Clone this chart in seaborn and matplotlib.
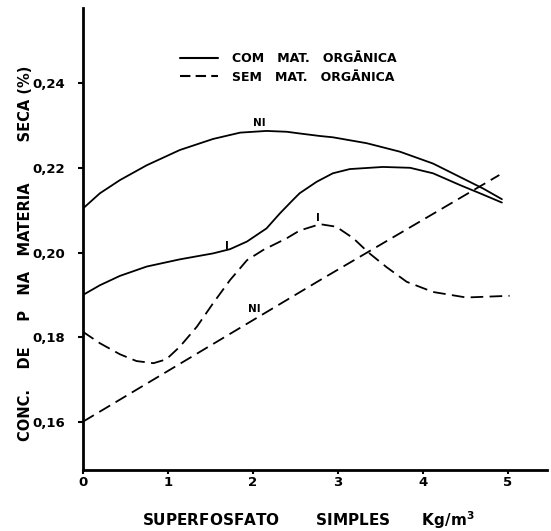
import numpy as np
import matplotlib
matplotlib.use("Agg")
import matplotlib.pyplot as plt
import seaborn as sns
import pandas as pd
from matplotlib.lines import Line2D
from matplotlib.ticker import FuncFormatter

# dados (superfosfato kg/m3 x conc. de P %)
com_ni_x = [0, 0.2, 0.435, 0.75, 1.14, 1.53, 1.85, 2.16, 2.40, 2.55, 2.79, 2.94, 3.34,
            3.73, 4.12, 4.51, 4.71, 4.93]
com_ni_y = [0.2104, 0.2140, 0.2171, 0.2206, 0.2242, 0.2268, 0.2283, 0.2287, 0.2285, 0.2281,
            0.2275, 0.2272, 0.2258, 0.2238, 0.2210, 0.2171, 0.2151, 0.2126]

com_i_x = [0, 0.2, 0.435, 0.75, 1.14, 1.53, 1.73, 1.93, 2.16, 2.32, 2.47, 2.55, 2.75, 2.94,
           3.14, 3.53, 3.85, 4.12, 4.44, 4.67, 4.93]
com_i_y = [0.1900, 0.1923, 0.1945, 0.1967, 0.1984, 0.1998, 0.2008, 0.2026, 0.2057, 0.2093,
           0.2124, 0.2140, 0.2167, 0.2187, 0.2197, 0.2202, 0.2200, 0.2187, 0.2159, 0.2140,
           0.2118]

sem_i_x = [0, 0.2, 0.435, 0.63, 0.83, 0.98, 1.14, 1.34, 1.53, 1.73, 1.93, 2.12, 2.40, 2.55,
           2.71, 2.79, 2.98, 3.18, 3.36, 3.57, 3.81, 4.12, 4.51, 5.02]
sem_i_y = [0.1813, 0.1786, 0.1760, 0.1744, 0.1739, 0.1748, 0.1778, 0.1825, 0.1880, 0.1935,
           0.1982, 0.2006, 0.2034, 0.2052, 0.2062, 0.2067, 0.2061, 0.2034, 0.2000, 0.1966,
           0.1931, 0.1907, 0.1894, 0.1898]

sem_ni_x = [0, 2.79, 4.9]
sem_ni_y = [0.1601, 0.1935, 0.2183]

y_ticks = [0.16, 0.18, 0.20, 0.22, 0.24]
x_ticks = [0, 1, 2, 3, 4, 5]

sns.set_style("ticks")
plt.rcParams['font.family'] = ['DejaVu Sans']
plt.rcParams['font.weight'] = 'bold'
for k in ['text.color', 'axes.labelcolor', 'xtick.color', 'ytick.color', 'axes.edgecolor']:
    plt.rcParams[k] = 'black'

fig = plt.figure(figsize=(5.51, 5.31), dpi=100)
ax = fig.add_axes([0.1506, 0.1149, 0.842, 0.870])

lw = 1.3
dash = (0, (7, 3.5))
sns.lineplot(x=com_ni_x, y=com_ni_y, color='black', lw=lw, ax=ax, sort=False)
sns.lineplot(x=com_i_x, y=com_i_y, color='black', lw=lw, ax=ax, sort=False)
sns.lineplot(x=sem_i_x, y=sem_i_y, color='black', lw=lw, linestyle=dash, ax=ax, sort=False)
sns.lineplot(x=sem_ni_x, y=sem_ni_y, color='black', lw=lw, linestyle=dash, ax=ax, sort=False)

ax.set_xlim(0, 5.46)
ax.set_ylim(0.1487, 0.2577)
ax.set_xticks(x_ticks)
ax.set_yticks(y_ticks)
ax.yaxis.set_major_formatter(FuncFormatter(lambda v, p: f"{v:.2f}".replace('.', ',')))
ax.tick_params(axis='y', labelsize=9.5, width=1.5, length=3.6, pad=9.5)
ax.tick_params(axis='x', labelsize=9.5, width=1.5, length=3.0, pad=1.5)
for lab in ax.get_xticklabels() + ax.get_yticklabels():
    lab.set_fontweight('bold')
sns.despine(ax=ax)
for s in ['left', 'bottom']:
    ax.spines[s].set_linewidth(2)

# rotulos das curvas
ax.text(2.08, 0.2293, "NI", ha='center', va='bottom', fontsize=7.5, fontweight='bold')
ax.text(1.69, 0.2004, "I", ha='center', va='bottom', fontsize=7.5, fontweight='bold')
ax.text(2.76, 0.2069, "I", ha='center', va='bottom', fontsize=7.5, fontweight='bold')
ax.text(2.02, 0.1867, "NI", ha='center', va='center', fontsize=7.5, fontweight='bold')

handles = [Line2D([], [], color='black', lw=1.5),
           Line2D([], [], color='black', lw=1.5, linestyle=(0, (5, 2.5)))]
ax.legend(handles, ["COM   MAT.   ORGĀNICA", "SEM   MAT.   ORGĀNICA"],
          loc='upper left', bbox_to_anchor=(180 / 551, 1 - 52 / 531),
          bbox_transform=fig.transFigure, frameon=False, borderpad=0, borderaxespad=0,
          handlelength=3.0, handletextpad=1.2, labelspacing=0.45,
          prop={'weight': 'bold', 'size': 9})

ax.set_xlabel("")
ax.set_ylabel("")
fig.text(0.559, 1 - 526 / 531, "SUPERFOSFATO       SIMPLES      Kg/m$^{\\mathbf{3}}$",
         ha='center', va='baseline', fontsize=11, fontweight='bold')
fig.text(0.047, 1 - 253 / 531,
         "CONC.    DE     P   NA   MATERIA        SECA (%)",
         rotation=90, ha='center', va='center', fontsize=10.5, fontweight='bold')

fig.savefig("out.png", dpi=100)
